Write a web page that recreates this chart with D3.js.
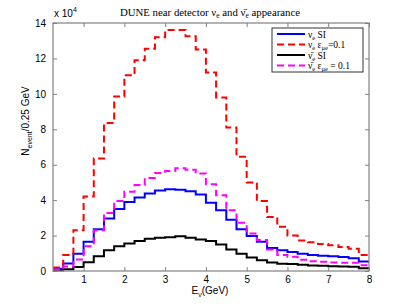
<!DOCTYPE html>
<html>
<head>
<meta charset="utf-8">
<script src="https://cdn.jsdelivr.net/npm/d3@7"></script>
<style>
  body { margin: 0; background: #fff; }
  svg { display: block; }
</style>
</head>
<body>
<svg id="chart" width="407" height="306"></svg>
<script>
// bin left edges (GeV), 0.25 GeV bins up to 8
var binEdges = [0.25, 0.5, 0.75, 1, 1.25, 1.5, 1.75, 2, 2.25, 2.5, 2.75, 3, 3.25, 3.5, 3.75, 4,
                4.25, 4.5, 4.75, 5, 5.25, 5.5, 5.75, 6, 6.25, 6.5, 6.75, 7, 7.25, 7.5, 7.75];
var xMax = 8;

// events per bin, in units of 10^4
var nuSI = [0.13, 0.42, 0.98, 1.65, 2.35, 2.97, 3.5, 3.9, 4.15, 4.38, 4.55, 4.62, 4.58, 4.5, 4.32, 3.85,
            3.43, 2.9, 2.35, 1.97, 1.65, 1.3, 1.17, 1.07, 0.98, 0.9, 0.86, 0.83, 0.79, 0.72, 0.53];
var nuEps = [0.2, 0.9, 2.3, 4.2, 6.35, 8.35, 9.85, 11.05, 11.9, 12.55, 13.2, 13.6, 13.6, 13.25, 12.5, 11.2,
             9.8, 8.1, 6.45, 5.0, 3.95, 3.05, 2.5, 2.0, 1.72, 1.62, 1.52, 1.45, 1.35, 1.25, 0.9];
var nubarSI = [0.04, 0.1, 0.23, 0.5, 0.83, 1.17, 1.4, 1.55, 1.7, 1.82, 1.88, 1.9, 1.96, 1.88, 1.78, 1.7,
               1.5, 1.22, 0.98, 0.76, 0.6, 0.48, 0.41, 0.39, 0.35, 0.31, 0.29, 0.27, 0.26, 0.24, 0.15];
var nubarEps = [0.08, 0.25, 0.65, 1.4, 2.3, 3.27, 3.95, 4.48, 4.85, 5.25, 5.53, 5.65, 5.8, 5.72, 5.5, 4.9,
                4.27, 3.43, 2.72, 2.12, 1.75, 1.22, 0.9, 0.8, 0.64, 0.55, 0.52, 0.48, 0.47, 0.46, 0.32];

var xTicks = [1, 2, 3, 4, 5, 6, 7, 8];
var yTicks = [0, 2, 4, 6, 8, 10, 12, 14];

var series = [
    { values: nuSI, color: "#0000ff", dash: null, bar: false, eps: false },
    { values: nuEps, color: "#ff0000", dash: "7,4", bar: false, eps: true },
    { values: nubarSI, color: "#000000", dash: null, bar: true, eps: false },
    { values: nubarEps, color: "#ff00ff", dash: "7,4", bar: true, eps: true }
];

var svg = d3.select("#chart"),
    margin = { top: 23, right: 38, bottom: 35, left: 53 },
    width = +svg.attr("width") - margin.left - margin.right,
    height = +svg.attr("height") - margin.top - margin.bottom,
    g = svg.append("g").attr("transform", "translate(" + margin.left + "," + margin.top + ")");

var sans = "'Liberation Sans', Arial, sans-serif";
var serif = "'Liberation Serif', 'DejaVu Serif', serif";

var x = d3.scaleLinear().domain([0.25, xMax]).range([0, width]);
var y = d3.scaleLinear().domain([0, 14]).range([height, 0]);

// step lines
var line = d3.line()
    .x(function (d) { return x(d[0]); })
    .y(function (d) { return y(d[1]); })
    .curve(d3.curveStepAfter);

series.forEach(function (s) {
    var pts = binEdges.map(function (e, i) { return [e, s.values[i]]; });
    pts.push([xMax, s.values[s.values.length - 1]]);
    g.append("path")
        .datum(pts)
        .attr("fill", "none")
        .attr("stroke", s.color)
        .attr("stroke-width", 2)
        .attr("stroke-dasharray", s.dash)
        .attr("d", line);
});

// axes box, matlab style ticks pointing in
var axisColor = "#808080";
function styleAxis(sel) {
    sel.select(".domain").remove();
    sel.selectAll(".tick line").attr("stroke", axisColor);
    sel.selectAll(".tick text").attr("fill", "#000").attr("font-family", sans).attr("font-size", 10);
}
g.append("g")
    .attr("transform", "translate(0," + height + ")")
    .call(d3.axisBottom(x).tickValues(xTicks).tickSizeInner(-4).tickPadding(5))
    .call(styleAxis);
g.append("g")
    .call(d3.axisTop(x).tickValues(xTicks).tickSizeInner(-4).tickFormat(""))
    .call(styleAxis);
g.append("g")
    .call(d3.axisLeft(y).tickValues(yTicks).tickSizeInner(-4).tickPadding(7))
    .call(styleAxis);
g.append("g")
    .attr("transform", "translate(" + width + ",0)")
    .call(d3.axisRight(y).tickValues(yTicks).tickSizeInner(-4).tickFormat(""))
    .call(styleAxis);
g.append("rect")
    .attr("width", width).attr("height", height)
    .attr("fill", "none").attr("stroke", axisColor).attr("stroke-width", 1.2);

// exponent label
var ex = svg.append("text")
    .attr("x", margin.left + 1).attr("y", 17)
    .attr("font-family", sans).attr("font-size", 10);
ex.append("tspan").text("x 10");
ex.append("tspan").attr("dy", -5).attr("font-size", 7).text("4");

// title
var title = svg.append("text")
    .attr("x", 210).attr("y", 16)
    .attr("text-anchor", "middle")
    .attr("font-family", serif).attr("font-size", 10.8);
title.append("tspan").text("DUNE near detector ν");
title.append("tspan").attr("dy", 2).attr("font-size", 7.5).text("e");
title.append("tspan").attr("dy", -2).text(" and ν\u0304");
title.append("tspan").attr("dy", 2).attr("font-size", 7.5).text("e");
title.append("tspan").attr("dy", -2).text(" appearance");

// axis titles
var xl = svg.append("text")
    .attr("x", 210).attr("y", 294)
    .attr("text-anchor", "middle")
    .attr("font-family", sans).attr("font-size", 10);
xl.append("tspan").text("E");
xl.append("tspan").attr("dy", 3).attr("font-size", 7).text("ν");
xl.append("tspan").attr("dy", -3).text("(GeV)");

var yl = svg.append("text")
    .attr("transform", "translate(29,121) rotate(-90)")
    .attr("text-anchor", "middle")
    .attr("font-family", sans).attr("font-size", 10);
yl.append("tspan").text("N");
yl.append("tspan").attr("dy", 3).attr("font-size", 7).text("event");
yl.append("tspan").attr("dy", -3).text("/0.25 GeV");

// legend
var legend = svg.append("g").attr("transform", "translate(272,28)");
legend.append("rect")
    .attr("width", 91).attr("height", 44)
    .attr("fill", "#fff").attr("stroke", "#333").attr("stroke-width", 1);

var rows = legend.selectAll("g.row")
    .data(series)
    .enter().append("g")
    .attr("class", "row")
    .attr("transform", function (d, i) { return "translate(0," + (6 + i * 10.5) + ")"; });

rows.append("line")
    .attr("x1", 5).attr("x2", 33)
    .attr("stroke", function (d) { return d.color; })
    .attr("stroke-width", 2)
    .attr("stroke-dasharray", function (d) { return d.dash; });

rows.each(function (d) {
    var t = d3.select(this).append("text")
        .attr("x", 36).attr("y", 3.5)
        .attr("font-family", serif).attr("font-size", 9.5);
    t.append("tspan").text(d.bar ? "ν\u0304" : "ν");
    t.append("tspan").attr("dy", 2).attr("font-size", 6.5).text("e");
    if (d.eps) {
        t.append("tspan").attr("dy", -2).text(" ε");
        t.append("tspan").attr("dy", 2).attr("font-size", 6.5).text("μe");
        t.append("tspan").attr("dy", -2).text(d.bar ? " = 0.1" : "=0.1");
    } else {
        t.append("tspan").attr("dy", -2).text(" SI");
    }
});
</script>
</body>
</html>
